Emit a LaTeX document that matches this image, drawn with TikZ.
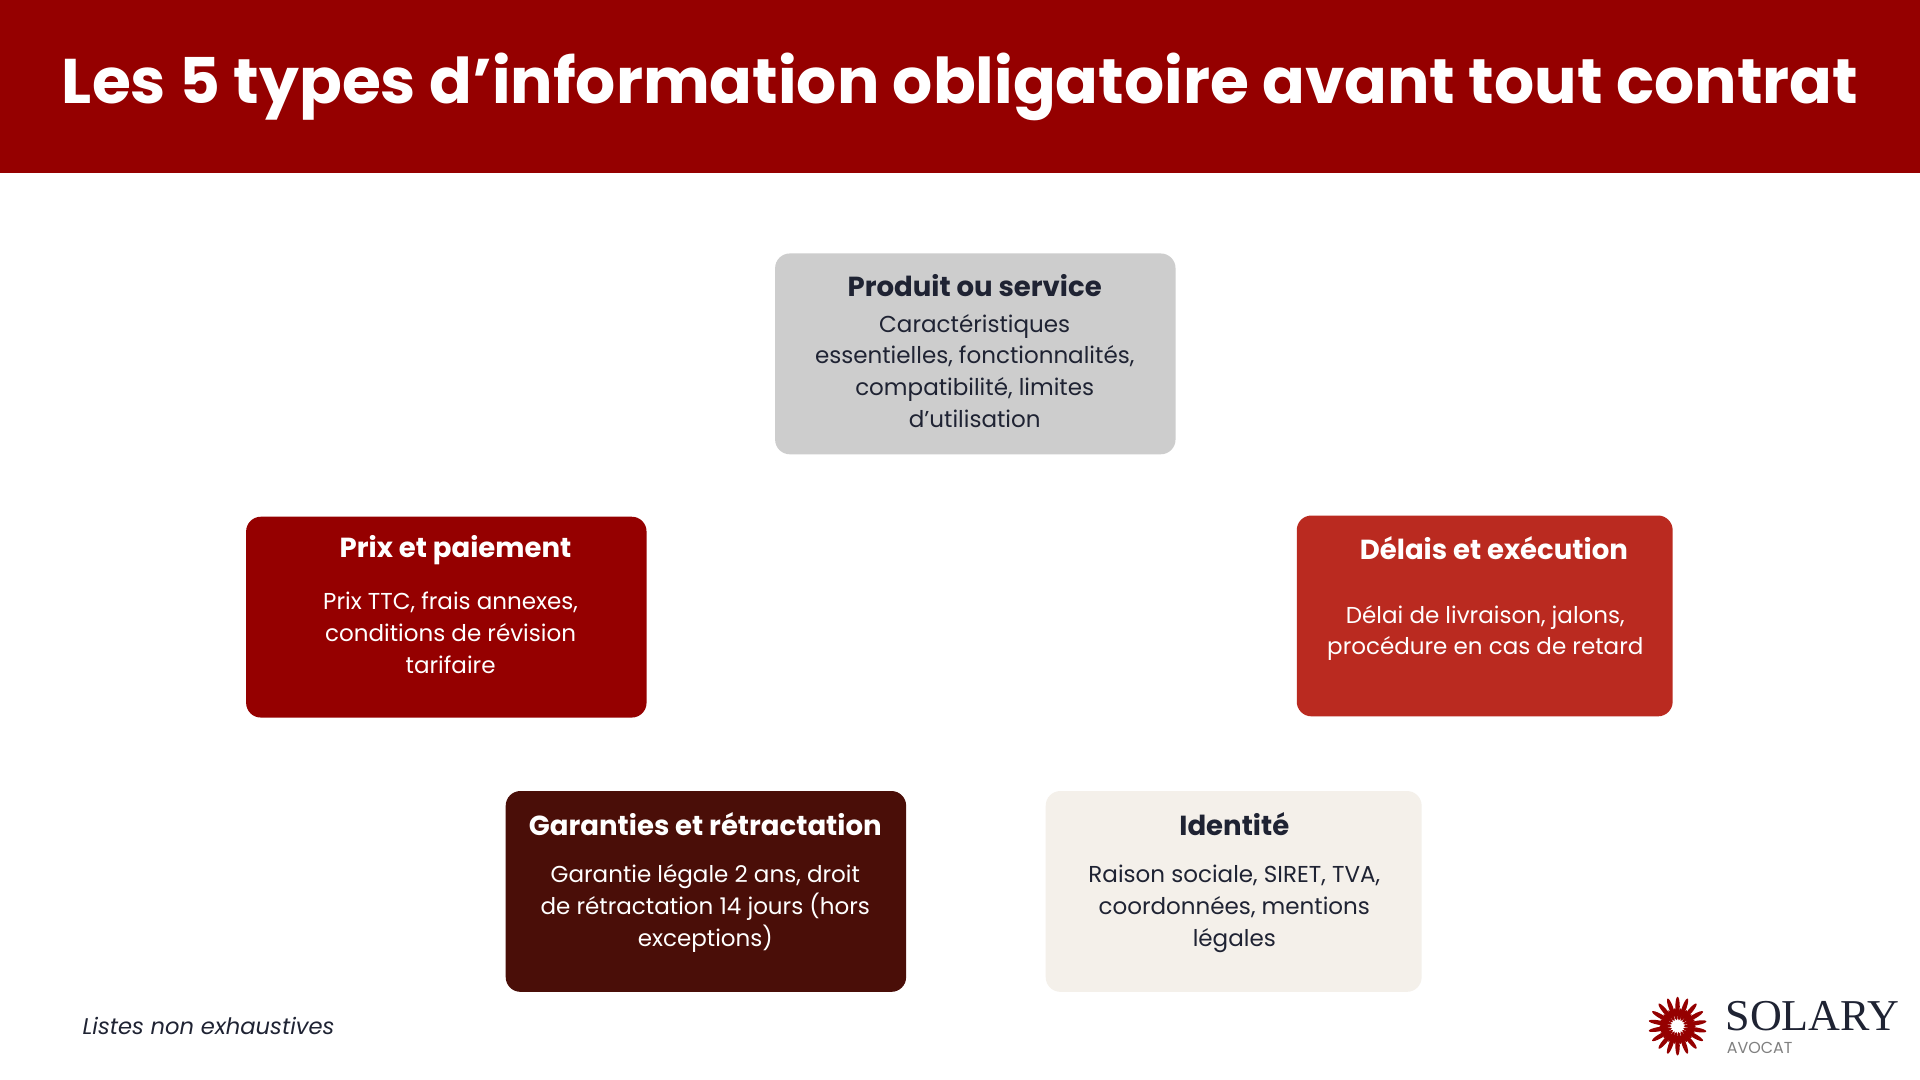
\documentclass[tikz,border=0pt]{standalone}
\usetikzlibrary{calc}
\usepackage{fontspec}
\setmainfont{Poppins}
\newfontfamily\logofont{Liberation Serif}
\definecolor{hdr}{HTML}{950000}
\definecolor{cgray}{HTML}{CDCDCD}
\definecolor{cdel}{HTML}{BA2A20}
\definecolor{cgar}{HTML}{4A0E08}
\definecolor{cide}{HTML}{F4F0EA}
\definecolor{ink}{HTML}{1F2333}
\tikzset{
 card/.style={rounded corners=12pt, draw=none},
 ttl/.style={font=\fontsize{22.5}{26}\selectfont\bfseries, anchor=center},
 body/.style={font=\fontsize{18.8}{26}\selectfont, align=center, anchor=center},
}
\begin{document}
\begin{tikzpicture}[x=1pt,y=-1pt]
\useasboundingbox (0,0) rectangle (1568,882);
\fill[white] (0,0) rectangle (1568,882);
\fill[hdr] (0,0) rectangle (1568,141);
\node[font=\fontsize{51.5}{60}\selectfont\bfseries, text=white] (title) at (784,71) {Les 5 types d’information obligatoire avant tout contrat};

\fill[card, cgray] (633,207) rectangle (960,371);
\node[ttl, text=ink] (t1) at (796,233) {Produit ou service};
\node[body, text=ink] (b1) at (796,303) {Caractéristiques\\essentielles, fonctionnalités,\\compatibilité, limites\\d\symbol{39}utilisation};

\fill[card, hdr] (201,422) rectangle (528,586);
\node[ttl, text=white] (t2) at (372,449) {Prix et paiement};
\node[body, text=white] (b2) at (368,517) {Prix TTC, frais annexes,\\conditions de révision\\tarifaire};

\fill[card, cdel] (1059,421) rectangle (1366,585);
\node[ttl, text=white] (t3) at (1220,448) {Délais et exécution};
\node[body, text=white] (b3) at (1213,517) {Délai de livraison, jalons,\\procédure en cas de retard};

\fill[card, cgar] (413,646) rectangle (740,810);
\node[ttl, text=white] (t4) at (576,673) {Garanties et rétractation};
\node[body, text=white] (b4) at (576,742) {Garantie légale 2 ans, droit\\de rétractation 14 jours (hors\\exceptions)};

\fill[card, cide] (854,646) rectangle (1161,810);
\node[ttl, text=ink] (t5) at (1008,673) {Identité};
\node[body, text=ink] (b5) at (1008,742) {Raison sociale, SIRET, TVA,\\coordonnées, mentions\\légales};

\node[font=\fontsize{18.5}{22}\selectfont\itshape, anchor=west, text=ink] (note) at (64,838) {Listes non exhaustives};

% logo
\coordinate (sun) at (1370,838);
\foreach \a in {0,20,...,340} {
  \fill[hdr, rotate around={\a:(sun)}] ($(sun)+(0,-16)$) ellipse (1.8 and 8);
  \fill[hdr, rotate around={\a+10:(sun)}] ($(sun)+(0,-10)$) ellipse (1.4 and 5);
}
\fill[white] (sun) circle (4);
\node[font=\logofont\fontsize{36}{38}\selectfont, text=ink, anchor=west, inner sep=0] (logo) at (1409,830) {SOLARY};
\node[font=\fontsize{13}{14}\selectfont, text=gray, anchor=west, inner sep=0] (avocat) at (1410,856) {AVOCAT};
\end{tikzpicture}
\end{document}
